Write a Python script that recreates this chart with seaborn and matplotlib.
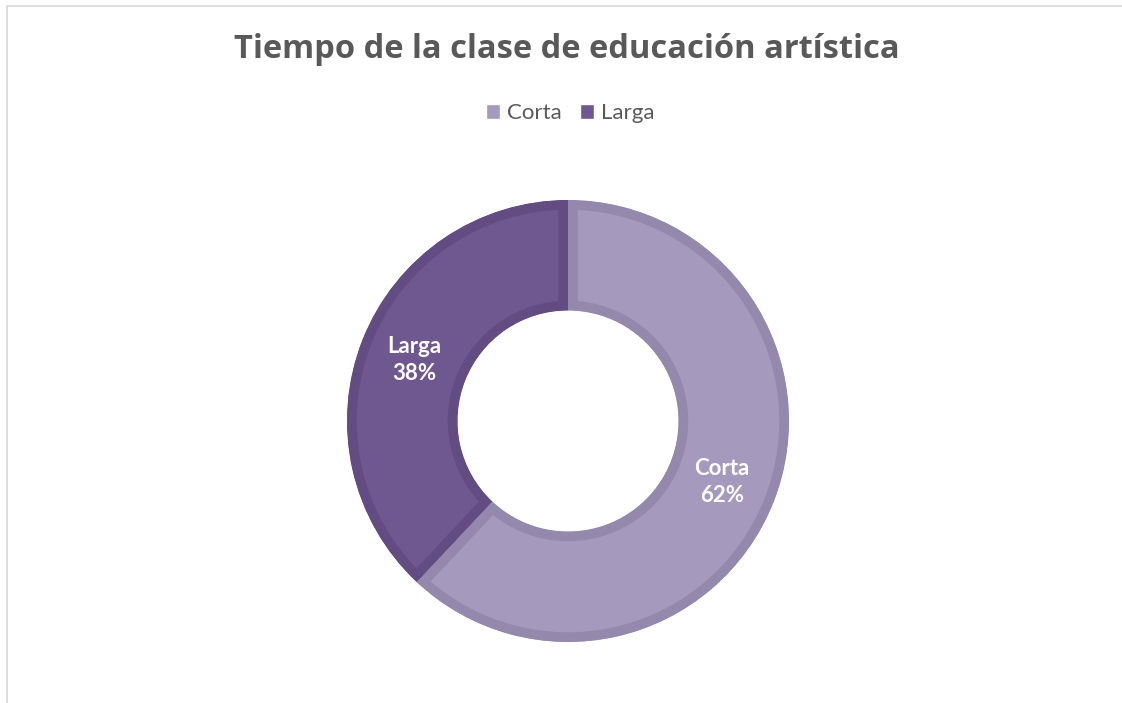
import matplotlib.pyplot as plt
import seaborn as sns
from matplotlib.lines import Line2D

# datos
categorias = ["Corta", "Larga"]
valores = [62, 38]
colores = ["#A599BD", "#6F5890"]
bordes = ["#9488AD", "#624C82"]
titulo = "Tiempo de la clase de educación artística"

sns.set_theme(style="white")
plt.rcParams["font.family"] = ["Lato", "DejaVu Sans"]

W, H = 1122, 703
fig = plt.figure(figsize=(W / 100, H / 100), dpi=100)

# marco del grafico
fig.add_artist(Line2D([6.5 / W, 1], [1 - 5.5 / H, 1 - 5.5 / H], color="#D9D9D9", lw=1.2))
fig.add_artist(Line2D([6.5 / W, 6.5 / W], [0, 1 - 5.5 / H], color="#D9D9D9", lw=1.2))

# dona
cx, cy, R = 568, H - 421, 221
ax = fig.add_axes([(cx - R) / W, (cy - R) / H, 2 * R / W, 2 * R / H])
wedges, textos, autotextos = ax.pie(
    valores, colors=colores, startangle=90, counterclock=False, radius=1,
    autopct="%1.0f%%", pctdistance=0.75,
    wedgeprops=dict(width=0.5, linewidth=14),
    textprops=dict(color="white", fontsize=16, fontweight="bold"),
)
for w, b in zip(wedges, bordes):
    w.set_edgecolor(b)
    w.set_clip_on(True)
    w.set_clip_path(w)
for t, nombre in zip(autotextos, categorias):
    t.set_text(nombre + "\n" + t.get_text())
    t.set_linespacing(1.4)
ax.set_xlim(-1, 1)
ax.set_ylim(-1, 1)
ax.axis("off")

fig.text(567 / W, 1 - 58 / H, titulo, ha="center", va="baseline",
         fontsize=23.5, fontweight="bold", color="#595959",
         family=["Open Sans", "DejaVu Sans"])

handles = [plt.Rectangle((0, 0), 1, 1, facecolor=c) for c in colores]
fig.legend(handles, categorias, loc="center", bbox_to_anchor=(570 / W, 1 - 113 / H),
           ncol=2, frameon=False, fontsize=16, labelcolor="#595959",
           handlelength=0.65, handleheight=0.65, handletextpad=0.3, columnspacing=0.8)

fig.savefig("out.png", dpi=100)
